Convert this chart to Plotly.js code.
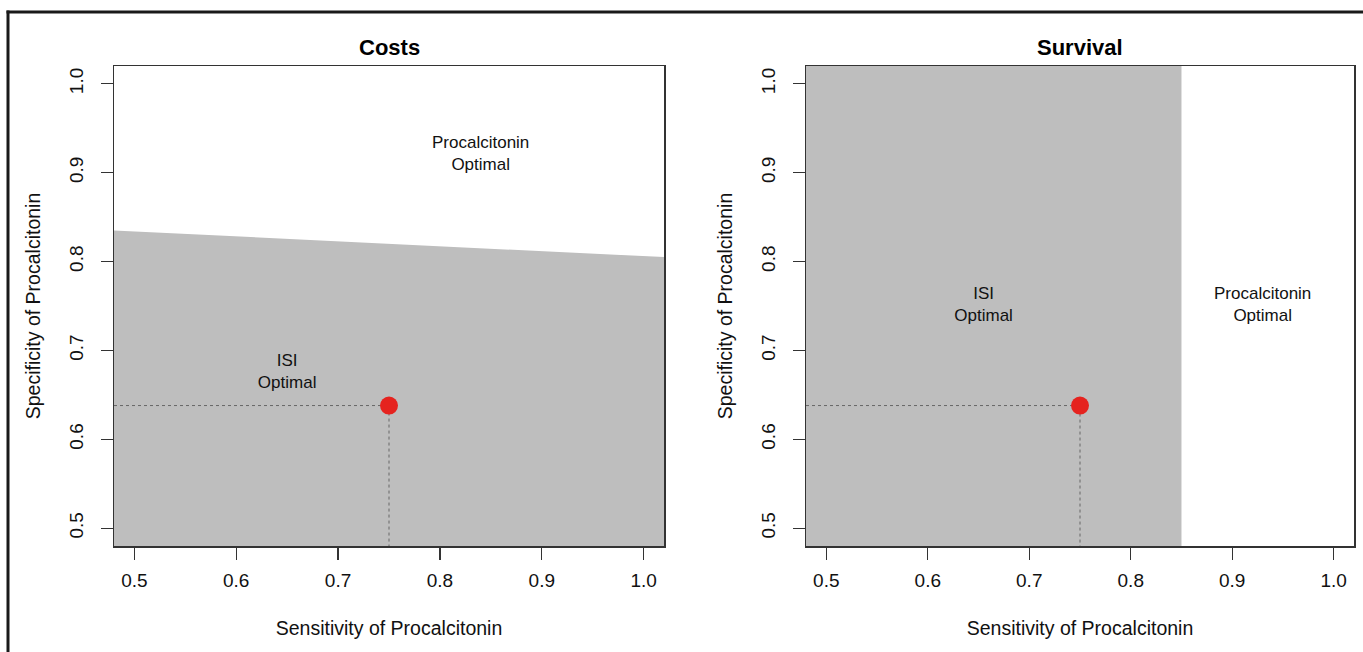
<!DOCTYPE html>
<html>
<head>
<meta charset="utf-8">
<script src="https://cdn.plot.ly/plotly-3.0.1.min.js"></script>
<style>html,body{margin:0;padding:0;background:#fff;}#chart{width:1363px;height:652px;}</style>
</head>
<body>
<div id="chart"></div>
<script>
// ---- data ----
const sensRange = [0.48, 1.02];               // axis extent (sensitivity)
const specRange = [0.48, 1.02];               // axis extent (specificity)
const tickVals = [0.5, 0.6, 0.7, 0.8, 0.9, 1.0];
const tickText = ["0.5", "0.6", "0.7", "0.8", "0.9", "1.0"];
const costThresholdSpec = [0.835, 0.805];     // cost threshold specificity at sensRange ends
const survivalThresholdSens = [0.85, 0.85];   // survival threshold sensitivity
const survivalSpecEdges = [0.48, 1.02];
const baseSens = [0.75];
const baseSpec = [0.638];
const costLabelSens = [0.84, 0.65];
const costLabelSpec = [0.92, 0.675];
const costLabelText = ["Procalcitonin<br>Optimal", "ISI<br>Optimal"];
const survLabelSens = [0.655, 0.93];
const survLabelSpec = [0.75, 0.75];
const survLabelText = ["ISI<br>Optimal", "Procalcitonin<br>Optimal"];
const panelTitles = ["Costs", "Survival"];
const xTitle = "Sensitivity of Procalcitonin";
const yTitle = "Specificity of Procalcitonin";

const GRAY = "#BEBEBE";
const FONT = "Liberation Sans, Arial, Helvetica, sans-serif";
const W = 1363, H = 652;

function panelTraces(xa, ya, regionX, regionYlow, regionYhigh, lblX, lblY, lblT) {
  return [
    {x: regionX, y: regionYlow, xaxis: xa, yaxis: ya, mode: "lines", line: {width: 0, color: GRAY}, hoverinfo: "skip", showlegend: false},
    {x: regionX, y: regionYhigh, xaxis: xa, yaxis: ya, mode: "lines", fill: "tonexty", fillcolor: GRAY, line: {width: 0, color: GRAY}, hoverinfo: "skip", showlegend: false},
    {x: [sensRange[0], baseSens[0], baseSens[0]], y: [baseSpec[0], baseSpec[0], specRange[0]], xaxis: xa, yaxis: ya,
     mode: "lines", line: {color: "#666666", width: 1, dash: "dot"}, hoverinfo: "skip", showlegend: false},
    {x: baseSens, y: baseSpec, xaxis: xa, yaxis: ya, mode: "markers", marker: {size: 18, color: "#E5231F"}, showlegend: false},
    {x: lblX, y: lblY, text: lblT, xaxis: xa, yaxis: ya, mode: "text", textfont: {family: FONT, size: 17, color: "#111"}, hoverinfo: "skip", showlegend: false}
  ];
}

const traces = [].concat(
  panelTraces("x", "y", sensRange, [specRange[0], specRange[0]], costThresholdSpec, costLabelSens, costLabelSpec, costLabelText),
  panelTraces("x2", "y2", [sensRange[0], survivalThresholdSens[0]], [survivalSpecEdges[0], survivalSpecEdges[0]], [survivalSpecEdges[1], survivalSpecEdges[1]], survLabelSens, survLabelSpec, survLabelText)
);

function xax(domain) {
  return {domain: domain, range: sensRange, tickvals: tickVals, ticktext: tickText, ticks: "outside", ticklen: 12, tickwidth: 1.3, tickcolor: "#333",
    showline: true, mirror: true, linecolor: "#333", linewidth: 1.5, showgrid: false, zeroline: false,
    tickfont: {family: FONT, size: 19, color: "#111"}, ticklabelstandoff: 5,
    title: {text: xTitle, font: {family: FONT, size: 19.5, color: "#111"}, standoff: 31}};
}
function yax(domain, anchor) {
  return {domain: domain, anchor: anchor, range: specRange, tickvals: tickVals, ticktext: tickText, ticks: "outside", ticklen: 12, tickwidth: 1.3, tickcolor: "#333",
    showline: true, mirror: true, linecolor: "#333", linewidth: 1.5, showgrid: false, zeroline: false, tickangle: -90,
    tickfont: {family: FONT, size: 19, color: "#111"}, ticklabelstandoff: 10,
    title: {text: yTitle, font: {family: FONT, size: 19.5, color: "#111"}, standoff: 20}};
}
const yDom = [(H - 546) / H, (H - 66) / H];
const layout = {
  width: W, height: H, margin: {l: 0, r: 0, t: 0, b: 0},
  paper_bgcolor: "#fff", plot_bgcolor: "#fff", showlegend: false,
  xaxis: Object.assign(xax([114 / W, 664 / W]), {anchor: "y"}),
  yaxis: yax(yDom, "x"),
  xaxis2: Object.assign(xax([806 / W, 1354 / W]), {anchor: "y2"}),
  yaxis2: yax(yDom, "x2"),
  annotations: [
    {text: "<b>" + panelTitles[0] + "</b>", xref: "x domain", yref: "paper", x: 0.5, y: 1 - 47 / H, xanchor: "center", yanchor: "middle", showarrow: false, font: {family: FONT, size: 22, color: "#000"}},
    {text: "<b>" + panelTitles[1] + "</b>", xref: "x2 domain", yref: "paper", x: 0.5, y: 1 - 47 / H, xanchor: "center", yanchor: "middle", showarrow: false, font: {family: FONT, size: 22, color: "#000"}}
  ],
  shapes: [
    {type: "line", xref: "paper", yref: "paper", x0: 8 / W, x1: 8 / W, y0: 1 - 10.5 / H, y1: -0.05, line: {color: "#1a1a1a", width: 3}},
    {type: "line", xref: "paper", yref: "paper", x0: 6.5 / W, x1: 1.05, y0: 1 - 12 / H, y1: 1 - 12 / H, line: {color: "#1a1a1a", width: 3}}
  ]
};
Plotly.newPlot("chart", traces, layout, {displayModeBar: false, staticPlot: true});
</script>
</body>
</html>
